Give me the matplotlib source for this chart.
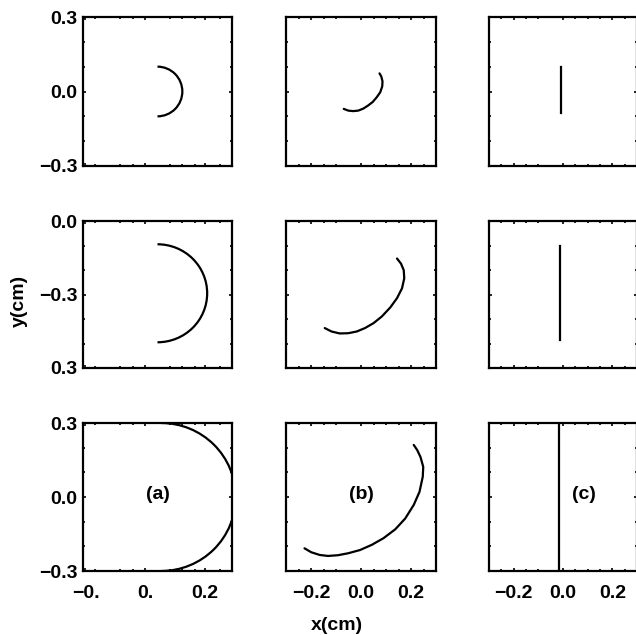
import matplotlib
matplotlib.use("Agg")
import matplotlib.pyplot as plt
from matplotlib.patches import Arc

plt.rcParams["font.family"] = ["Liberation Sans", "DejaVu Sans"]
plt.rcParams["font.weight"] = "bold"

# column (a): semicircular paths, (center x, center y, radius)
arc_rows = [(0.0, 0.0, 0.1), (0.0, 0.005, 0.2), (0.015, 0.0, 0.3)]

# column (b): curved paths
b_x_top = [-0.069, -0.051, -0.031, -0.011, 0.009, 0.029, 0.047, 0.063, 0.077, 0.085, 0.086, 0.081, 0.074]
b_y_top = [-0.070, -0.077, -0.079, -0.077, -0.069, -0.056, -0.042, -0.023, -0.003, 0.021, 0.041, 0.061, 0.073]

b_x_mid = [-0.145, -0.118, -0.085, -0.051, -0.017, 0.016, 0.050, 0.083, 0.117, 0.144, 0.164, 0.173, 0.171, 0.160, 0.144]
b_y_mid = [-0.137, -0.151, -0.159, -0.158, -0.151, -0.137, -0.117, -0.090, -0.053, -0.015, 0.025, 0.066, 0.099, 0.126, 0.147]

b_x_bot = [-0.226, -0.199, -0.165, -0.132, -0.092, -0.051, -0.004, 0.043, 0.090, 0.137, 0.177, 0.211,
           0.234, 0.247, 0.249, 0.238, 0.225, 0.211]
b_y_bot = [-0.208, -0.224, -0.235, -0.239, -0.236, -0.228, -0.215, -0.194, -0.167, -0.131, -0.087, -0.032,
           0.021, 0.082, 0.122, 0.162, 0.190, 0.211]

# column (c): straight vertical segments (x, y start, y end)
c_lines = [(-0.01, -0.085, 0.1), (-0.012, -0.185, 0.2), (-0.015, -0.3, 0.3)]

# tick labels
y_labels = [["−0.3", "0.0", "0.3"], ["0.3", "−0.3", "0.0"], ["−0.3", "0.0", "0.3"]]
y_ticks = [-0.3, 0.0, 0.3]
x_labels = [["−0.", "0.", "0.2"], ["−0.2", "0.0", "0.2"], ["−0.2", "0.0", "0.2"]]
x_ticks = [[-0.29, -0.05, 0.19], [-0.2, 0.0, 0.2], [-0.2, 0.0, 0.2]]
panel_tags = ["(a)", "(b)", "(c)"]
tag_x = [0.0, 0.0, 0.085]

W, H = 636, 635
fig = plt.figure(figsize=(6.36, 6.35), dpi=100)

cols_px = [(83, 232), (286, 436), (489, 637)]
rows_px = [(17, 166), (221, 368), (423, 571)]

lw = 1.6
for r, (top, bot) in enumerate(rows_px):
    for c, (left, right) in enumerate(cols_px):
        ax = fig.add_axes([left / W, 1 - bot / H, (right - left) / W, (bot - top) / H])
        ax.set_xlim(-0.3, 0.3)
        ax.set_ylim(-0.3, 0.3)
        for s in ax.spines.values():
            s.set_linewidth(1.6)
        ax.tick_params(which="both", direction="in", top=True, right=True,
                       length=2, width=1.2, labelsize=14)
        ax.tick_params(axis="x", pad=10)
        ax.tick_params(axis="y", pad=4)
        ax.set_xticks(x_ticks[c])
        ax.set_yticks(y_ticks)
        ax.set_xticks([-0.25, -0.15, -0.1, 0.05, 0.1, 0.15, 0.25], minor=True)
        ax.set_yticks([-0.2, -0.1, 0.1, 0.2], minor=True)
        ax.tick_params(which="minor", length=1.5, width=1.2)

        if c == 0:
            ax.set_yticklabels(y_labels[r], fontweight="bold")
        else:
            ax.set_yticklabels([])
        if r == 2:
            ax.set_xticklabels(x_labels[c], fontweight="bold")
        else:
            ax.set_xticklabels([])

        if c == 0:
            cx, cy, rad = arc_rows[r]
            ax.add_patch(Arc((cx, cy), 2 * rad, 2 * rad, theta1=-90, theta2=90,
                             color="black", lw=lw))
        elif c == 1:
            xs, ys = [(b_x_top, b_y_top), (b_x_mid, b_y_mid), (b_x_bot, b_y_bot)][r]
            ax.plot(xs, ys, color="black", lw=lw, solid_capstyle="round",
                    solid_joinstyle="round")
        else:
            lx, y0, y1 = c_lines[r]
            ax.plot([lx, lx], [y0, y1], color="black", lw=lw)

        if r == 2:
            ax.text(tag_x[c], 0.01, panel_tags[c], ha="center", va="center",
                    fontsize=14, fontweight="bold")

fig.text(19 / W, 1 - 301 / H, "y(cm)", rotation=90, ha="center", va="center",
         fontsize=14, fontweight="bold")
fig.text(337 / W, 1 - 625 / H, "x(cm)", ha="center", va="center",
         fontsize=14, fontweight="bold")

fig.savefig("out.png", dpi=100)
